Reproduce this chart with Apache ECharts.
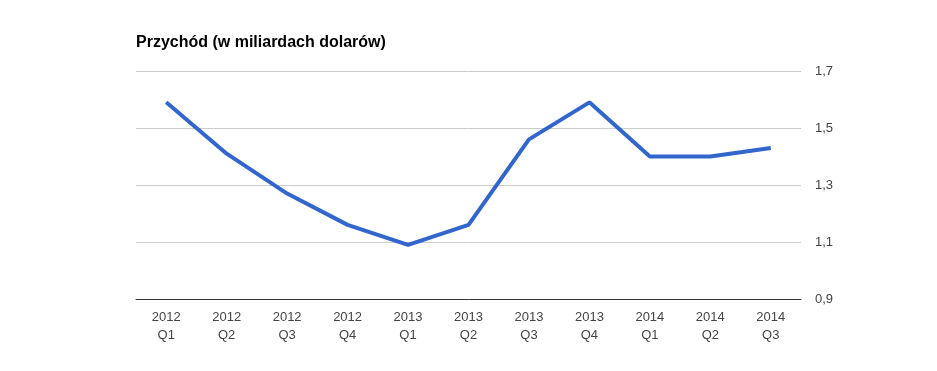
<!DOCTYPE html>
<html>
<head>
<meta charset="utf-8">
<script src="https://cdn.jsdelivr.net/npm/echarts@6/dist/echarts.min.js"></script>
<style>html,body{margin:0;padding:0;background:#fff;}#c{width:937px;height:371px;}</style>
</head>
<body>
<div id="c"></div>
<script>
var categories = ['2012\nQ1','2012\nQ2','2012\nQ3','2012\nQ4','2013\nQ1','2013\nQ2','2013\nQ3','2013\nQ4','2014\nQ1','2014\nQ2','2014\nQ3'];
var revenue = [1.59, 1.41, 1.27, 1.16, 1.09, 1.16, 1.46, 1.59, 1.40, 1.40, 1.43];
var titleText = 'Przychód (w miliardach dolarów)';

var chart = echarts.init(document.getElementById('c'), null, {renderer:'canvas'});
chart.setOption({
  animation: false,
  title: {
    text: titleText, left: 136, top: 35, padding: 0,
    textStyle: {fontFamily: 'Liberation Sans, Arial, sans-serif', fontSize: 16, fontWeight: 'bold', color: '#000'}
  },
  grid: {left: 136, right: 136, top: 71, bottom: 72, containLabel: false},
  xAxis: {
    type: 'category', data: categories, boundaryGap: true,
    axisLine: {lineStyle: {color: '#333', width: 1}},
    axisTick: {show: false},
    axisLabel: {fontFamily: 'Liberation Sans, Arial, sans-serif', fontSize: 13, color: '#444', lineHeight: 18, margin: 9, interval: 0}
  },
  yAxis: {
    type: 'value', position: 'right', min: 0.9, max: 1.7, interval: 0.2,
    axisLine: {show: false}, axisTick: {show: false},
    splitLine: {lineStyle: {color: '#ccc', width: 1}},
    axisLabel: {
      fontFamily: 'Liberation Sans, Arial, sans-serif', fontSize: 13, color: '#444', margin: 14,
      formatter: function(v){ return v.toFixed(1).replace('.', ','); }
    }
  },
  series: [{
    type: 'line', data: revenue, symbol: 'none',
    lineStyle: {color: '#3366cc', width: 4},
    itemStyle: {color: '#3366cc'}
  }]
});
</script>
</body>
</html>
